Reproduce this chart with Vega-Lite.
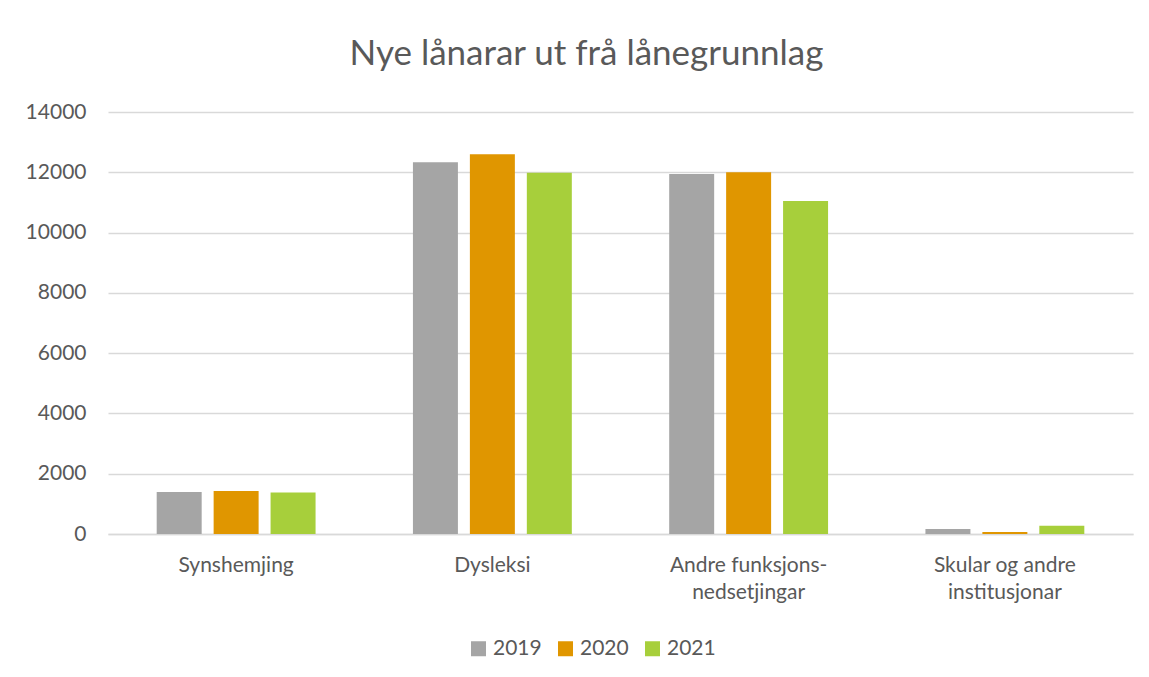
{
  "$schema": "https://vega.github.io/schema/vega-lite/v6.json",
  "autosize": {"type": "none"},
  "width": 1025,
  "height": 422,
  "padding": {"left": 108, "top": 112, "right": 16, "bottom": 143},
  "background": "white",
  "title": {
    "text": "Nye lånarar ut frå lånegrunnlag",
    "fontSize": 35,
    "font": "Lato",
    "fontWeight": "normal",
    "color": "#595959",
    "anchor": "middle",
    "frame": "group",
    "dx": -34,
    "offset": 29
  },
  "data": {
    "values": [
      {"kategori": "Synshemjing", "år": "2019", "lånarar": 1395},
      {"kategori": "Synshemjing", "år": "2020", "lånarar": 1425},
      {"kategori": "Synshemjing", "år": "2021", "lånarar": 1380},
      {"kategori": "Dysleksi", "år": "2019", "lånarar": 12330},
      {"kategori": "Dysleksi", "år": "2020", "lånarar": 12600},
      {"kategori": "Dysleksi", "år": "2021", "lånarar": 11985},
      {"kategori": "Andre funksjons-nedsetjingar", "år": "2019", "lånarar": 11940},
      {"kategori": "Andre funksjons-nedsetjingar", "år": "2020", "lånarar": 12000},
      {"kategori": "Andre funksjons-nedsetjingar", "år": "2021", "lånarar": 11045},
      {"kategori": "Skular og andre institusjonar", "år": "2019", "lånarar": 165},
      {"kategori": "Skular og andre institusjonar", "år": "2020", "lånarar": 65},
      {"kategori": "Skular og andre institusjonar", "år": "2021", "lånarar": 275}
    ]
  },
  "mark": {"type": "bar"},
  "encoding": {
    "x": {
      "field": "kategori",
      "type": "nominal",
      "sort": null,
      "title": null,
      "scale": {"paddingInner": 0.38, "paddingOuter": 0.19},
      "axis": {
        "labelAngle": 0,
        "ticks": false,
        "domain": true,
        "domainColor": "#d9d9d9",
        "domainWidth": 1.5,
        "labelPadding": 20,
        "labelFontSize": 21,
        "labelLineHeight": 27,
        "labelBaseline": "top",
        "labelExpr": "datum.label == 'Andre funksjons-nedsetjingar' ? ['Andre funksjons-', 'nedsetjingar'] : datum.label == 'Skular og andre institusjonar' ? ['Skular og andre', 'institusjonar'] : datum.label"
      }
    },
    "xOffset": {
      "field": "år",
      "type": "nominal",
      "scale": {"paddingInner": 0.21, "paddingOuter": 0}
    },
    "y": {
      "field": "lånarar",
      "type": "quantitative",
      "title": null,
      "scale": {"domain": [0, 14000], "nice": false},
      "axis": {
        "values": [0, 2000, 4000, 6000, 8000, 10000, 12000, 14000],
        "format": "d",
        "ticks": false,
        "domain": false,
        "labelPadding": 22,
        "labelFontSize": 21,
        "gridColor": "#d9d9d9",
        "gridWidth": 1.5
      }
    },
    "color": {
      "field": "år",
      "type": "nominal",
      "title": null,
      "scale": {"domain": ["2019", "2020", "2021"], "range": ["#a5a5a5", "#e09600", "#a7cf3b"]},
      "legend": {
        "orient": "none",
        "direction": "horizontal",
        "legendX": 360,
        "legendY": 526,
        "symbolType": "square",
        "symbolSize": 225,
        "symbolStrokeWidth": 0,
        "labelFontSize": 21,
        "columnPadding": 13,
        "labelOffset": 4
      }
    }
  },
  "config": {
    "font": "Lato",
    "view": {"stroke": null},
    "axis": {"labelColor": "#595959", "labelFont": "Lato"},
    "legend": {"labelColor": "#595959", "labelFont": "Lato"}
  }
}
